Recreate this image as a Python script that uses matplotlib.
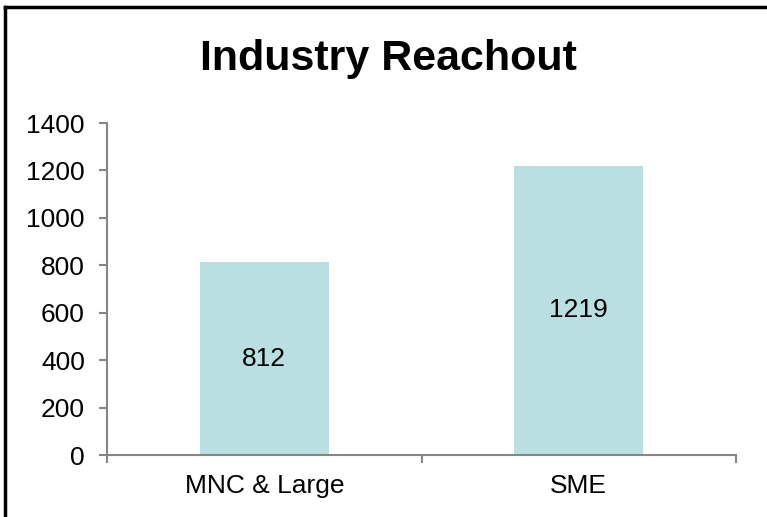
import matplotlib
matplotlib.use("Agg")
import matplotlib.pyplot as plt
from matplotlib.lines import Line2D

categories = ["MNC & Large", "SME"]
values = [812, 1219]
yticks = [0, 200, 400, 600, 800, 1000, 1200, 1400]

plt.rcParams["font.family"] = ["Liberation Sans", "DejaVu Sans"]
axis_gray = "#868686"

fig = plt.figure(figsize=(7.67, 5.17), dpi=100)
ax = fig.add_axes([0.1395, 0.1199, 0.8201, 0.6421])

x = range(len(categories))
ax.bar(x, values, width=0.41, color="#B9DFE2")
for xi, v in zip(x, values):
    ax.text(xi, v / 2, str(v), ha="center", va="center", fontsize=19, color="black")

ax.set_xlim(-0.5, len(categories) - 0.5)
ax.set_ylim(0, 1400)
ax.set_yticks(yticks)
ax.set_yticklabels([str(t) for t in yticks])

# category boundary ticks, labels at the centers
ax.set_xticks([i - 0.5 for i in range(len(categories) + 1)])
ax.set_xticklabels([])
ax.set_xticks(list(x), minor=True)
ax.set_xticklabels(categories, minor=True)
ax.tick_params(axis="x", which="minor", length=0, labelsize=19, pad=14)
ax.tick_params(axis="x", which="major", length=6, width=1.5, color=axis_gray)
ax.tick_params(axis="y", length=6, width=1.5, color=axis_gray, labelsize=19, pad=10)

for side in ("top", "right"):
    ax.spines[side].set_visible(False)
for side in ("left", "bottom"):
    ax.spines[side].set_color(axis_gray)
    ax.spines[side].set_linewidth(1.5)

fig.text(0.507, 0.885, "Industry Reachout", ha="center", va="center",
         fontsize=31, fontweight="bold")

# chart-area border (only top and left show in the crop)
fig.add_artist(Line2D([0.0065, 1.0], [0.9865, 0.9865], color="black", lw=2.5,
                      transform=fig.transFigure, solid_capstyle="projecting"))
fig.add_artist(Line2D([0.0065, 0.0065], [0.0, 0.9865], color="black", lw=2.5,
                      transform=fig.transFigure, solid_capstyle="projecting"))

fig.savefig("out.png", dpi=100)
